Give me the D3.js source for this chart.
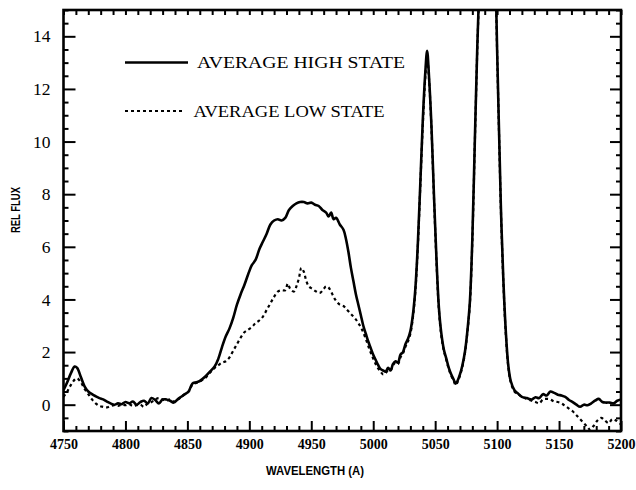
<!DOCTYPE html>
<html><head><meta charset="utf-8">
<script src="https://cdn.jsdelivr.net/npm/d3@7"></script>
<style>
body{margin:0;background:#fff;}
svg{display:block;}
</style></head>
<body>
<svg id="chart" width="636" height="490"></svg>
<script>
// ---- data ----
const highWave = [4750,4753,4756,4759,4761,4764,4767,4770,4773,4776,4779,4782,4785,4788,4791,4794,4797,4800,4803,4806,4809,4812,4815,4818,4821,4824,4827,4830,4833,4836,4839,4842,4845,4848,4851,4854,4857,4860,4864,4868,4872,4875,4878,4881,4884,4887,4890,4893,4896,4899,4902,4905,4908,4911,4914,4917,4920,4923,4926,4929,4932,4935,4938,4941,4944,4947,4950,4953,4956,4959,4962,4964,4966,4968,4970,4973,4976,4978,4980,4982,4984,4986,4988,4990,4992,4994,4996,4998,5000,5002,5004,5006,5008,5010,5012,5014,5016,5018,5020,5022,5024,5026,5028,5030,5032,5034,5036,5038,5040,5042,5043.5,5045,5047,5049,5051,5053,5055,5057,5059,5061,5063,5065,5066.5,5068,5070,5072,5074,5076,5078,5080,5082,5084,5086,5089,5092,5095,5098,5100,5101.5,5103,5105,5107,5109,5111,5114,5117,5120,5124,5128,5131,5134,5137,5140,5143,5146,5149,5152,5155,5158,5161,5164,5167,5170,5173,5176,5179,5182,5185,5188,5191,5194,5197,5200];
const highFlux = [0.55,0.85,1.2,1.45,1.4,1.05,0.7,0.5,0.4,0.32,0.25,0.2,0.12,0.05,0.0,0.05,0.02,0.1,0.05,0.12,0.0,0.1,0.15,0.05,0.25,0.18,0.05,0.2,0.2,0.15,0.08,0.2,0.3,0.4,0.5,0.8,0.85,0.9,1.05,1.25,1.45,1.75,2.2,2.6,2.9,3.3,3.8,4.2,4.55,4.95,5.3,5.5,5.9,6.2,6.5,6.85,7.0,7.05,7.0,7.1,7.4,7.55,7.65,7.7,7.7,7.65,7.68,7.6,7.55,7.4,7.3,7.15,7.3,7.05,7.1,6.85,6.65,6.3,5.8,5.2,4.7,4.2,3.8,3.4,3.0,2.7,2.4,2.15,1.9,1.7,1.5,1.35,1.3,1.25,1.4,1.3,1.55,1.65,1.6,1.9,2.0,2.3,2.5,2.8,3.4,4.4,6.1,8.4,10.8,12.6,13.45,12.5,10.6,8.0,5.6,3.7,2.7,2.1,1.75,1.4,1.15,0.95,0.8,0.9,1.15,1.5,2.0,2.8,3.9,6.3,10.0,13.6,16.5,22,25,23,18,13.5,10.5,7.6,4.8,2.8,1.5,0.9,0.55,0.42,0.3,0.25,0.2,0.28,0.25,0.4,0.35,0.5,0.45,0.38,0.35,0.3,0.18,0.1,0.0,-0.08,0.0,-0.02,0.05,0.15,0.22,0.1,0.08,0.08,0.05,0.15,0.2];

const lowWave = [4750,4753,4756,4759,4761,4764,4767,4770,4773,4776,4779,4782,4785,4788,4791,4794,4797,4800,4803,4806,4809,4812,4815,4818,4821,4824,4827,4830,4833,4836,4839,4842,4845,4848,4851,4854,4857,4860,4864,4868,4872,4875,4878,4881,4884,4887,4890,4893,4896,4899,4902,4905,4908,4911,4914,4917,4920,4923,4926,4929,4931,4933,4936,4938,4940,4942,4944,4946,4948,4951,4954,4957,4960,4962,4964,4966,4968,4970,4973,4976,4979,4982,4985,4988,4991,4994,4997,5000,5003,5006,5008,5010,5012,5014,5016,5018,5020,5022,5024,5026,5028,5030,5032,5034,5036,5038,5040,5042,5043.5,5045,5047,5049,5051,5053,5055,5057,5059,5061,5063,5065,5066.5,5068,5070,5072,5074,5076,5078,5080,5082,5084,5086,5089,5092,5095,5098,5100,5101.5,5103,5105,5107,5109,5111,5114,5117,5120,5124,5128,5131,5134,5137,5140,5143,5146,5149,5152,5155,5158,5161,5164,5167,5170,5173,5175,5178,5181,5184,5187,5190,5193,5196,5200];
const lowFlux = [0.3,0.5,0.75,0.95,1.0,0.85,0.6,0.4,0.2,0.05,-0.05,-0.08,-0.1,-0.05,-0.02,-0.05,0.0,-0.02,0.02,-0.05,-0.02,0.0,-0.08,0.05,0.1,0.2,0.25,0.2,0.15,0.2,0.12,0.18,0.3,0.4,0.5,0.75,0.82,0.88,1.0,1.2,1.4,1.5,1.6,1.65,1.8,2.05,2.3,2.55,2.75,2.85,2.95,3.1,3.2,3.35,3.6,3.85,4.1,4.3,4.35,4.35,4.6,4.4,4.3,4.5,4.8,5.2,5.05,4.7,4.5,4.4,4.3,4.25,4.4,4.5,4.45,4.3,4.1,3.95,3.8,3.75,3.6,3.45,3.3,3.1,2.85,2.5,2.1,1.75,1.45,1.25,1.15,1.2,1.3,1.3,1.5,1.6,1.55,1.8,1.95,2.2,2.4,2.7,3.3,4.3,6.0,8.3,10.6,12.4,13.2,12.4,10.5,7.9,5.5,3.6,2.6,2.05,1.7,1.35,1.1,0.9,0.75,0.85,1.1,1.45,1.95,2.75,3.8,6.2,9.9,13.5,16.4,22,25,23,18,13.4,10.4,7.5,4.7,2.7,1.45,0.85,0.5,0.4,0.3,0.22,0.15,0.1,0.05,0.2,0.22,0.2,0.12,0.1,0.05,-0.05,-0.15,-0.25,-0.4,-0.55,-0.7,-0.85,-0.95,-0.8,-0.6,-0.5,-0.6,-0.7,-0.55,-0.6,-0.75];

const xMajorTicks = [4750,4800,4850,4900,4950,5000,5050,5100,5150,5200];
const yMajorTicks = [0,2,4,6,8,10,12,14];
const legendLabels = ["AVERAGE HIGH STATE","AVERAGE LOW STATE"];
const xTitle = "WAVELENGTH (A)";
const yTitle = "REL FLUX";

// ---- layout ----
const L = 63.5, R = 621, T = 10, B = 431;
const svg = d3.select("#chart");
const x = d3.scaleLinear().domain([4750,5200]).range([L,R]);
const y = d3.scaleLinear().domain([-1,15]).range([B,T]);

const xMinor = d3.range(4750,5201,10).filter(v=>v%50!==0);
const yMinor = d3.range(-1,15.01,0.5).filter(v=>v%2!==0);

svg.append("defs").append("clipPath").attr("id","clip")
  .append("rect").attr("x",L).attr("y",T).attr("width",R-L).attr("height",B-T);

const serif = "'Liberation Serif','Times New Roman',serif";

function styleAxis(g){
  g.select(".domain").remove();
  g.selectAll(".tick line").attr("stroke","#000").attr("stroke-width",2);
}

// bottom axis
svg.append("g").attr("transform",`translate(0,${B})`)
  .call(d3.axisBottom(x).tickValues(xMajorTicks).tickSize(-10).tickPadding(8).tickFormat(d3.format("d")))
  .call(styleAxis)
  .call(g=>g.selectAll("text").attr("font-family",serif).attr("font-weight","bold").attr("font-size",14).attr("fill","#000"));
svg.append("g").attr("transform",`translate(0,${B})`)
  .call(d3.axisBottom(x).tickValues(xMinor).tickSize(-5).tickFormat(""))
  .call(styleAxis);
// top axis
svg.append("g").attr("transform",`translate(0,${T})`)
  .call(d3.axisTop(x).tickValues(d3.range(4750,5201,10)).tickSize(-5).tickFormat(""))
  .call(styleAxis);
// left axis
svg.append("g").attr("transform",`translate(${L},0)`)
  .call(d3.axisLeft(y).tickValues(yMajorTicks).tickSize(-12).tickPadding(13).tickFormat(d3.format("d")))
  .call(styleAxis)
  .call(g=>g.selectAll("text").attr("font-family",serif).attr("font-size",17.5).attr("fill","#000"));
svg.append("g").attr("transform",`translate(${L},0)`)
  .call(d3.axisLeft(y).tickValues(yMinor).tickSize(-5).tickFormat(""))
  .call(styleAxis);
// right axis
svg.append("g").attr("transform",`translate(${R},0)`)
  .call(d3.axisRight(y).tickValues(yMajorTicks).tickSize(-11).tickFormat(""))
  .call(styleAxis);
svg.append("g").attr("transform",`translate(${R},0)`)
  .call(d3.axisRight(y).tickValues(yMinor).tickSize(-5).tickFormat(""))
  .call(styleAxis);

// lines
const line = d3.line().x(d=>x(d[0])).y(d=>y(d[1])).curve(d3.curveCatmullRom.alpha(0.5));
const highData = highWave.map((w,i)=>[w,highFlux[i]]);
const lowData = lowWave.map((w,i)=>[w,lowFlux[i]]);
const plot = svg.append("g").attr("clip-path","url(#clip)");
plot.append("path").datum(lowData).attr("d",line).attr("fill","none")
  .attr("stroke","#000").attr("stroke-width",2.2).attr("stroke-dasharray","3,3");
plot.append("path").datum(highData).attr("d",line).attr("fill","none")
  .attr("stroke","#000").attr("stroke-width",2.6).attr("stroke-linejoin","round");

// frame
svg.append("rect").attr("x",L).attr("y",T).attr("width",R-L).attr("height",B-T)
  .attr("fill","none").attr("stroke","#000").attr("stroke-width",2.6);

// legend
const lg = svg.append("g");
lg.append("line").attr("x1",125).attr("x2",188).attr("y1",62.5).attr("y2",62.5)
  .attr("stroke","#000").attr("stroke-width",2.6);
lg.append("text").attr("x",197).attr("y",67.5).text(legendLabels[0])
  .attr("font-family",serif).attr("font-size",16.5).attr("textLength",208).attr("lengthAdjust","spacingAndGlyphs");
lg.append("line").attr("x1",125).attr("x2",182).attr("y1",111).attr("y2",111)
  .attr("stroke","#000").attr("stroke-width",2.2).attr("stroke-dasharray","3,3");
lg.append("text").attr("x",193.5).attr("y",116.5).text(legendLabels[1])
  .attr("font-family",serif).attr("font-size",16.5).attr("textLength",191).attr("lengthAdjust","spacingAndGlyphs");

// axis titles
svg.append("text").attr("x",266).attr("y",475).text(xTitle)
  .attr("font-family","'Liberation Sans',Arial,sans-serif").attr("font-weight","bold")
  .attr("font-size",13).attr("textLength",98).attr("lengthAdjust","spacingAndGlyphs");
svg.append("text").attr("transform","translate(20,233) rotate(-90)").text(yTitle)
  .attr("font-family","'Liberation Sans',Arial,sans-serif").attr("font-weight","bold")
  .attr("font-size",13).attr("textLength",46).attr("lengthAdjust","spacingAndGlyphs");
</script>
</body></html>
